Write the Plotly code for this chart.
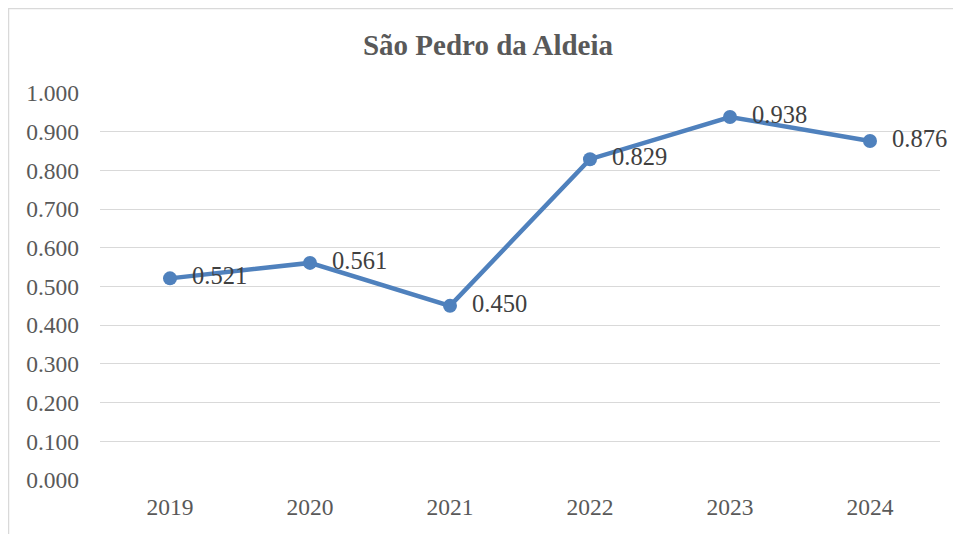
import plotly.graph_objects as go

years = ["2019", "2020", "2021", "2022", "2023", "2024"]
values = [0.521, 0.561, 0.450, 0.829, 0.938, 0.876]
labels = ["0.521", "0.561", "0.450", "0.829", "0.938", "0.876"]
y_ticks = [0.0, 0.1, 0.2, 0.3, 0.4, 0.5, 0.6, 0.7, 0.8, 0.9, 1.0]
y_tick_labels = ["0.000", "0.100", "0.200", "0.300", "0.400", "0.500",
                 "0.600", "0.700", "0.800", "0.900", "1.000"]
title_text = "São Pedro da Aldeia"

FONT = "Liberation Serif"
OFF = 8  # page body margin
W, H = 961 - OFF, 534 - OFF
L, R, T, B = 100 - OFF, 21, 93 - OFF, 54
pw, ph = W - L - R, H - T - B

def px_x(px):
    return (px - L) / pw

def px_y(py):
    return (H - B - py) / ph

fig = go.Figure()
fig.add_trace(go.Scatter(
    x=years, y=values,
    mode="lines+markers+text",
    line=dict(color="#4F81BD", width=4.5),
    marker=dict(color="#4F81BD", size=14),
    text=labels,
    texttemplate="\u00a0\u00a0%{text}",
    textposition="middle right",
    textfont=dict(family=FONT, size=24.5, color="#404040"),
    cliponaxis=False,
    showlegend=False,
))

fig.update_layout(
    width=W, height=H,
    margin=dict(l=L, r=R, t=T, b=B),
    paper_bgcolor="white",
    plot_bgcolor="white",
    title=dict(text="<b>" + title_text + "</b>", x=(488 - OFF) / W, xanchor="center",
               y=1 - (45 - OFF) / H, yanchor="middle", yref="container",
               font=dict(family=FONT, size=29, color="#595959")),
    xaxis=dict(type="category", range=[-0.5, 5.5], showgrid=False,
               showline=False, zeroline=False, ticks="", ticklabelstandoff=10,
               tickfont=dict(family=FONT, size=23.5, color="#595959")),
    yaxis=dict(range=[0, 1.0], tickvals=y_ticks, ticktext=y_tick_labels,
               showgrid=True, gridcolor="#D9D9D9", gridwidth=1.3,
               zeroline=False, showline=False, ticks="", ticklabelstandoff=20,
               tickfont=dict(family=FONT, size=23.5, color="#595959")),
    shapes=[
        dict(type="line", xref="paper", yref="paper",
             x0=px_x(0), x1=px_x(W + 5), y0=px_y(0.5), y1=px_y(0.5),
             line=dict(color="#D9D9D9", width=1.5)),
        dict(type="line", xref="paper", yref="paper",
             x0=px_x(0.5), x1=px_x(0.5), y0=px_y(0), y1=px_y(H + 5),
             line=dict(color="#D9D9D9", width=1.5)),
    ],
)

fig.write_html("out.html")
